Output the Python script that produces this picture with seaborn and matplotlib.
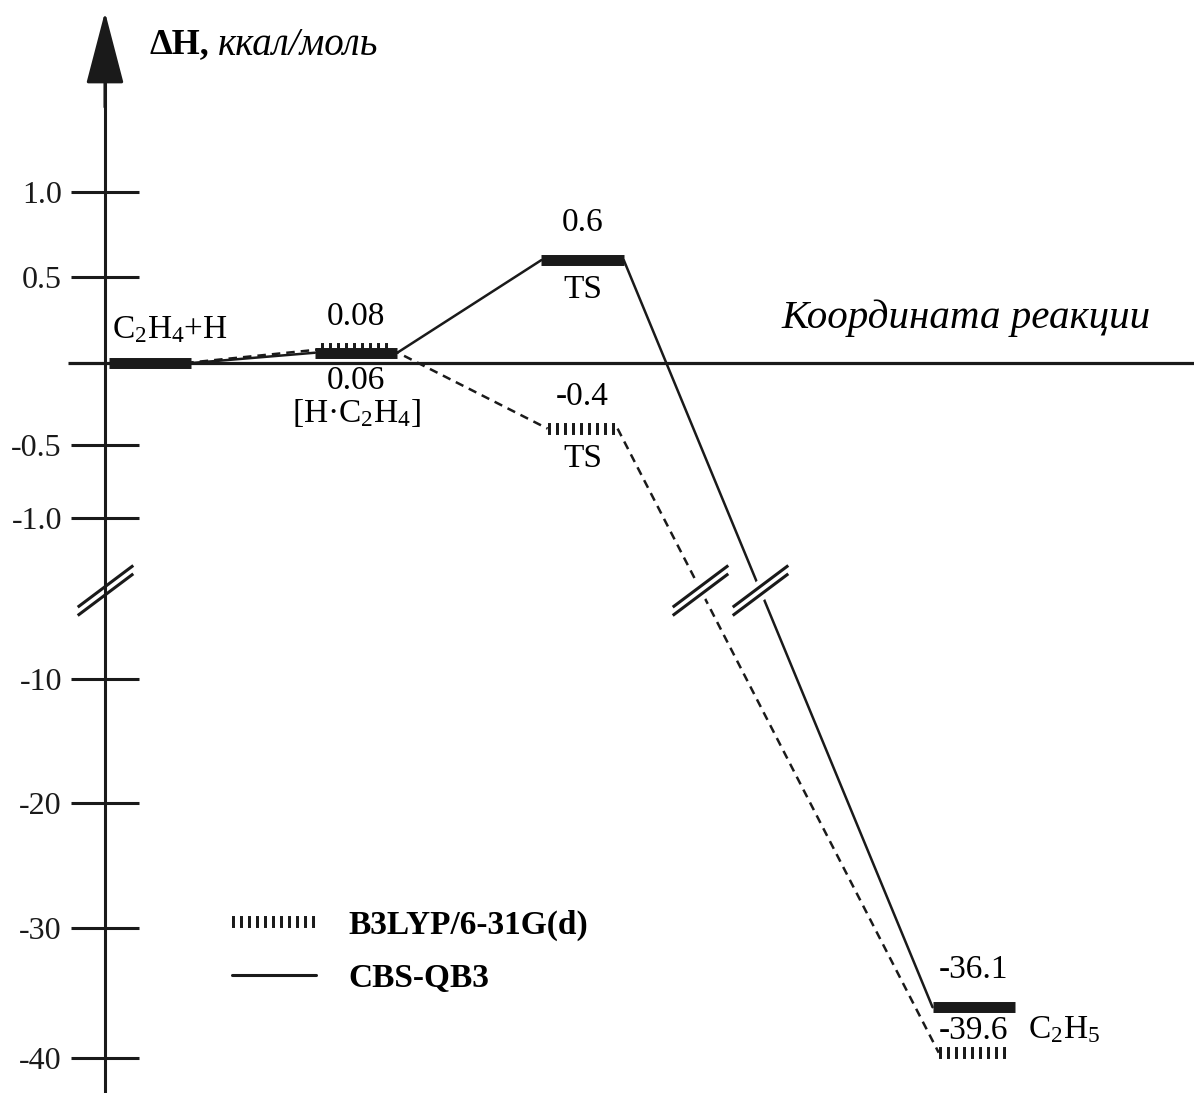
import numpy as np
import pandas as pd
import matplotlib.pyplot as plt
from matplotlib.lines import Line2D
from matplotlib.path import Path
import seaborn as sns

# энтальпии стадий, ккал/моль
stages = ['C$_2$H$_4$+H', '[H·C$_2$H$_4$]', 'TS', 'C$_2$H$_5$']
b3lyp = [0.0, 0.08, -0.4, -39.6]
cbs = [0.0, 0.06, 0.6, -36.1]
methods = ['B3LYP/6-31G(d)', 'CBS-QB3']
y_ticks = [-40, -30, -20, -10, -1.0, -0.5, 0.5, 1.0]
y_ticklabels = ['-40', '-30', '-20', '-10', '-1.0', '-0.5', '0.5', '1.0']
y_break = -5

# схема: положения стадий по координате реакции и полуширина уровней
stage_x = [0.0, 1.0, 2.1, 4.0]
hw_s, hw_h = 0.2, 0.17
x_axis = -0.22

# неравномерная шкала с разрывом между -1 и -10
scale_v = [-50, -40, -30, -20, -10, -1.0, -0.5, 0.0, 0.5, 1.0, 3.0]
scale_h = [-825, -695, -565, -440, -316, -155, -82, 0, 86, 171, 511]


def fwd(v):
    return np.interp(v, scale_v, scale_h)


def inv(h):
    return np.interp(h, scale_h, scale_v)


sns.set_theme(style='white', rc={'text.color': 'black', 'axes.labelcolor': 'black',
                                 'xtick.color': 'black', 'ytick.color': 'black'})
plt.rcParams['font.family'] = ['Liberation Serif', 'DejaVu Serif']
plt.rcParams['mathtext.fontset'] = 'custom'
plt.rcParams['mathtext.rm'] = 'Liberation Serif'
plt.rcParams['mathtext.it'] = 'Liberation Serif:italic'
plt.rcParams['mathtext.bf'] = 'Liberation Serif:bold'

fig = plt.figure(figsize=(11.94, 10.93), dpi=100)
ax = fig.add_axes([0, 0, 1, 1])
ax.set_yscale('function', functions=(fwd, inv))
ax.set_xlim(-0.73, 5.07)
ax.set_ylim(-42.7, 2.13)

# соединительные линии между уровнями
rows = []
for m, vals, hw in [(methods[0], b3lyp, hw_h), (methods[1], cbs, hw_s)]:
    for i in range(len(vals) - 1):
        rows.append((m, i, stage_x[i] + hw, vals[i]))
        rows.append((m, i, stage_x[i + 1] - hw, vals[i + 1]))
df = pd.DataFrame(rows, columns=['method', 'seg', 'x', 'dH'])
sns.lineplot(data=df, x='x', y='dH', style='method', units='seg', estimator=None,
             sort=False, color='k', lw=1.8, legend=False, ax=ax,
             dashes={methods[0]: (3.4, 2.4), methods[1]: ''})
ax.set(xlabel='', ylabel='')

# уровни энергии
for x, v in zip(stage_x, cbs):
    ax.plot([x - hw_s, x + hw_s], [v, v], color='k', lw=7.9,
            solid_capstyle='butt', zorder=3)
for x, v, vc in zip(stage_x, b3lyp, cbs):
    if v != vc:
        ax.plot([x - hw_h, x + hw_h], [v, v], color='k', lw=8.6,
                dashes=(0.25, 0.42), dash_capstyle='butt', zorder=4)

# значки разрыва
brk = Path([(-0.8, -0.48), (0.8, 0.72), (-0.8, -0.72), (0.8, 0.48)],
           [Path.MOVETO, Path.LINETO, Path.MOVETO, Path.LINETO])
hb = fwd(y_break)
for vals, hw in [(b3lyp, hw_h), (cbs, hw_s)]:
    h2, h3 = fwd(vals[2]), fwd(vals[3])
    t = (hb - h2) / (h3 - h2)
    xb = stage_x[2] + hw + t * (stage_x[3] - hw - stage_x[2] - hw)
    ax.plot([xb], [y_break], marker=brk, ms=40, mew=9, mec='white', mfc='none', zorder=5)
    ax.plot([xb], [y_break], marker=brk, ms=40, mew=2.2, mec='k', mfc='none', zorder=6)
ax.plot([x_axis], [y_break], marker=brk, ms=40, mew=2.2, mec='k', mfc='none',
        zorder=6, clip_on=False)

# оси
ax.hlines(0, -0.40, 5.07, color='k', lw=2.3, zorder=2)
for s in ['top', 'right', 'bottom']:
    ax.spines[s].set_visible(False)
ax.spines['left'].set_position(('data', x_axis))
ax.spines['left'].set_bounds(-42.7, 1.8)
ax.spines['left'].set_linewidth(2.2)
ax.spines['left'].set_color('k')
ax.set_xticks([])
ax.set_yticks(y_ticks, y_ticklabels)
ax.tick_params(axis='y', direction='inout', length=49, width=2.2, pad=6.5,
               labelsize=23, colors='k', left=True)
ax.annotate('', xy=(x_axis, 2.06), xytext=(x_axis, 1.5),
            arrowprops=dict(arrowstyle='-|>,head_length=2.3,head_width=0.6',
                            mutation_scale=20, lw=2.2, color='k',
                            shrinkA=0, shrinkB=0))

title = ax.text(0.1256, 0.9588, 'ΔH,', transform=ax.transAxes, fontsize=26,
                fontweight='bold', va='center', ha='left')
ax.annotate('ккал/моль', xy=(1, 0.5), xycoords=title, xytext=(8, 0),
            textcoords='offset pixels', fontsize=28, style='italic', va='center')
ax.annotate('Координата реакции', xy=(4.86, 0), xytext=(0, 45),
            textcoords='offset pixels', fontsize=29.5, style='italic',
            ha='right', va='center')

# подписи стадий и значений
fs = 24


def label(text, x, y, dy, dx=0, ha='center'):
    ax.annotate(text, xy=(x, y), xytext=(dx, dy), textcoords='offset pixels',
                fontsize=fs, ha=ha, va='center')


label(stages[0], stage_x[0] - hw_s, cbs[0], 33, dx=3, ha='left')
label(f'{b3lyp[1]:g}', stage_x[1], b3lyp[1], 33)
label(f'{cbs[1]:g}', stage_x[1], cbs[1], -28)
label(stages[1], stage_x[1], cbs[1], -60)
label(f'{cbs[2]:g}', stage_x[2], cbs[2], 37)
label(stages[2], stage_x[2], cbs[2], -30)
label(f'{b3lyp[2]:g}', stage_x[2], b3lyp[2], 32)
label(stages[2], stage_x[2], b3lyp[2], -30)
label(f'{cbs[3]:g}', stage_x[3], cbs[3], 37)
label(f'{b3lyp[3]:g}', stage_x[3], b3lyp[3], 22)
label(stages[3], stage_x[3] + hw_s, (cbs[3] + b3lyp[3]) / 2, 0, dx=13, ha='left')

# легенда
handles = [Line2D([], [], color='k', lw=8.6, dashes=(0.25, 0.42), dash_capstyle='butt'),
           Line2D([], [], color='k', lw=2.2)]
ax.legend(handles, methods, loc='upper left', bbox_to_anchor=(0.1943, 0.1674),
          frameon=False, prop={'weight': 'bold', 'size': 24}, handlelength=2.52,
          handletextpad=0.96, labelspacing=0.65, borderpad=0, borderaxespad=0)

fig.savefig('out.png', dpi=100, facecolor='white')
